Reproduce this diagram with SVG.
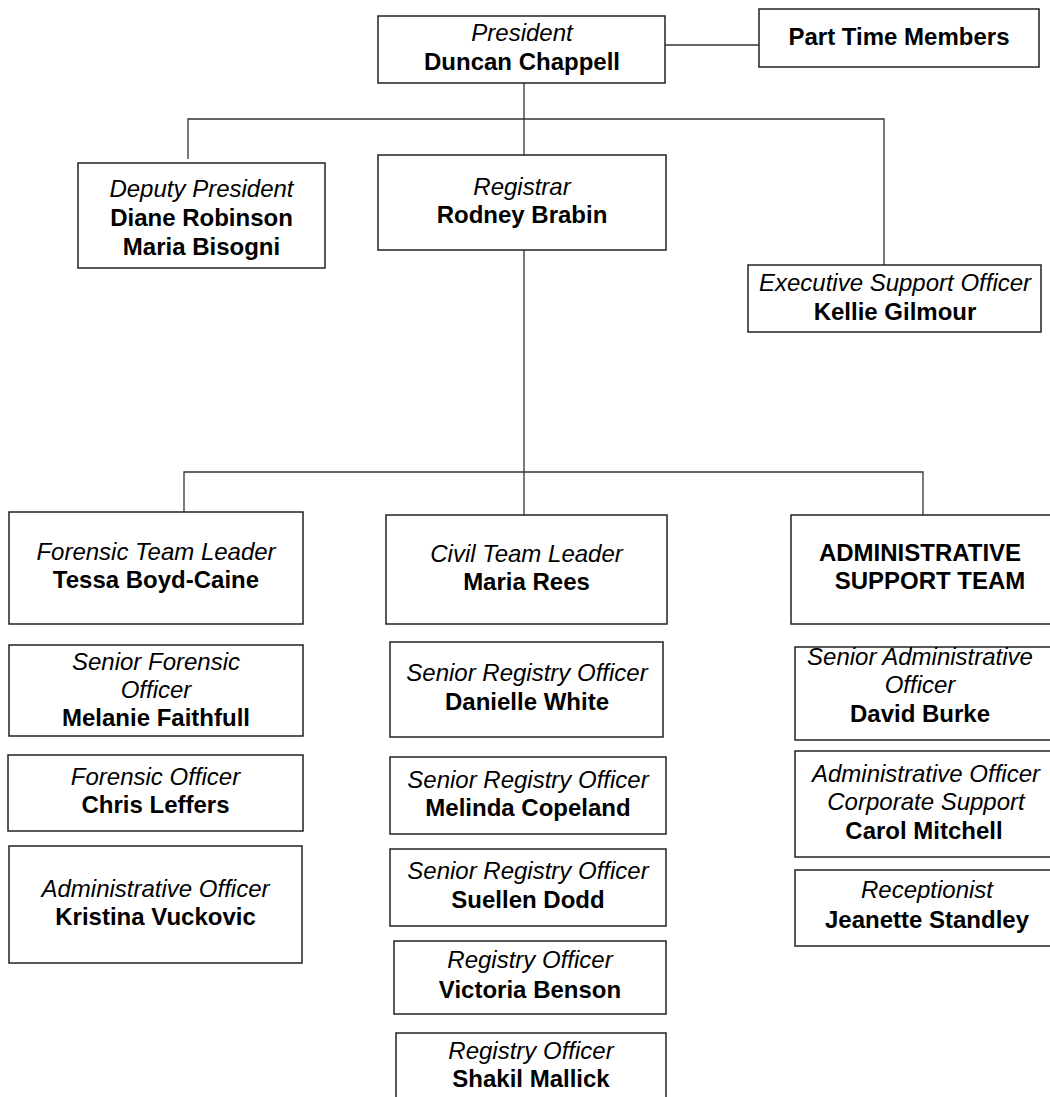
<svg xmlns="http://www.w3.org/2000/svg" width="1050" height="1097" viewBox="0 0 1050 1097">
<style>
.bx{fill:#fff;stroke:#222;stroke-width:1.5}
.cn{fill:none;stroke:#333;stroke-width:1.3}
text{font-family:"Liberation Sans",Arial,sans-serif;font-size:24px;fill:#000;text-anchor:middle}
.t{font-style:italic}
.n{font-weight:bold}
</style>
<rect width="1050" height="1097" fill="#fff"/>
<g id="connectors">
<path class="cn" d="M665,45H759"/>
<path class="cn" d="M524,83V155"/>
<path class="cn" d="M188,159V119H884V265"/>
<path class="cn" d="M524,250V515"/>
<path class="cn" d="M184,512V472H923V515"/>
</g>
<g id="president"><rect class="bx" x="378" y="16" width="287" height="67"/>
<text class="t" x="522" y="41">President</text><text class="n" x="522" y="70">Duncan Chappell</text></g>
<g id="part-time"><rect class="bx" x="759" y="9" width="280" height="58"/>
<text class="n" x="899" y="45">Part Time Members</text></g>
<g id="deputy"><rect class="bx" x="78" y="163" width="247" height="105"/>
<text class="t" x="201.5" y="197">Deputy President</text><text class="n" x="201.5" y="226">Diane Robinson</text><text class="n" x="201.5" y="255">Maria Bisogni</text></g>
<g id="registrar"><rect class="bx" x="378" y="155" width="288" height="95"/>
<text class="t" x="522" y="195">Registrar</text><text class="n" x="522" y="223">Rodney Brabin</text></g>
<g id="exec"><rect class="bx" x="748" y="265" width="293" height="67"/>
<text class="t" x="895" y="291">Executive Support Officer</text><text class="n" x="895" y="320">Kellie Gilmour</text></g>
<g id="forensic-lead"><rect class="bx" x="9" y="512" width="294" height="112"/>
<text class="t" x="156" y="560">Forensic Team Leader</text><text class="n" x="156" y="588">Tessa Boyd-Caine</text></g>
<g id="civil-lead"><rect class="bx" x="386" y="515" width="281" height="109"/>
<text class="t" x="526.5" y="562">Civil Team Leader</text><text class="n" x="526.5" y="590">Maria Rees</text></g>
<g id="admin-team"><rect class="bx" x="791" y="515" width="262" height="109"/>
<text class="n" x="920" y="561">ADMINISTRATIVE</text><text class="n" x="930" y="589">SUPPORT TEAM</text></g>
<g id="senior-forensic"><rect class="bx" x="9" y="645" width="294" height="91"/>
<text class="t" x="156" y="670">Senior Forensic</text><text class="t" x="156" y="698">Officer</text><text class="n" x="156" y="726">Melanie Faithfull</text></g>
<g id="forensic-officer"><rect class="bx" x="8" y="755" width="295" height="76"/>
<text class="t" x="155.5" y="785">Forensic Officer</text><text class="n" x="155.5" y="813">Chris Leffers</text></g>
<g id="admin-officer-f"><rect class="bx" x="9" y="846" width="293" height="117"/>
<text class="t" x="155.5" y="897">Administrative Officer</text><text class="n" x="155.5" y="925">Kristina Vuckovic</text></g>
<g id="sro-white"><rect class="bx" x="390" y="642" width="273" height="95"/>
<text class="t" x="527" y="681">Senior Registry Officer</text><text class="n" x="527" y="710">Danielle White</text></g>
<g id="sro-copeland"><rect class="bx" x="390" y="757" width="276" height="77"/>
<text class="t" x="528" y="788">Senior Registry Officer</text><text class="n" x="528" y="816">Melinda Copeland</text></g>
<g id="sro-dodd"><rect class="bx" x="390" y="849" width="276" height="77"/>
<text class="t" x="528" y="879">Senior Registry Officer</text><text class="n" x="528" y="908">Suellen Dodd</text></g>
<g id="ro-benson"><rect class="bx" x="394" y="941" width="272" height="73"/>
<text class="t" x="530" y="968">Registry Officer</text><text class="n" x="530" y="998">Victoria Benson</text></g>
<g id="ro-mallick"><rect class="bx" x="396" y="1033" width="270" height="80"/>
<text class="t" x="531" y="1059">Registry Officer</text><text class="n" x="531" y="1087">Shakil Mallick</text></g>
<g id="senior-admin"><rect class="bx" x="795" y="647" width="258" height="93"/>
<text class="t" x="920" y="665">Senior Administrative</text><text class="t" x="920" y="693">Officer</text><text class="n" x="920" y="722">David Burke</text></g>
<g id="admin-corporate"><rect class="bx" x="795" y="751" width="258" height="106"/>
<text class="t" x="926" y="782">Administrative Officer</text><text class="t" x="926" y="810">Corporate Support</text><text class="n" x="924" y="839">Carol Mitchell</text></g>
<g id="receptionist"><rect class="bx" x="795" y="870" width="258" height="76"/>
<text class="t" x="927" y="898">Receptionist</text><text class="n" x="927" y="928">Jeanette Standley</text></g>
</svg>
